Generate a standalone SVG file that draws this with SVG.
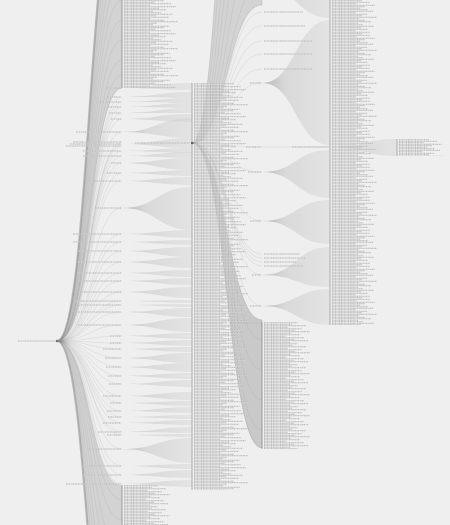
<svg xmlns="http://www.w3.org/2000/svg" xmlns:xlink="http://www.w3.org/1999/xlink" width="450" height="525" viewBox="0 0 450 525">
<style>
.bg{fill:#efefef}
.lk path{fill:none;stroke:#8f8f8f;stroke-opacity:.3;stroke-width:.5}
.lk .w{fill:url(#wg);stroke:none}
.lk .cr{fill:#a9a9a9;fill-opacity:.4;stroke:#999;stroke-opacity:.5;stroke-width:.6}
.lk .crd{fill:#9c9c9c;fill-opacity:.45;stroke:#888;stroke-opacity:.5;stroke-width:.6}
.lk .edge{stroke:#999;stroke-opacity:.6;stroke-width:2.2}
.halo{fill:none;stroke:#fff;stroke-opacity:.5;stroke-width:1.3}
.tx{fill:none;stroke:#878787;stroke-width:.65;stroke-dasharray:1.1 .35 .7 .4 1.4 .5}
.nl{stroke:#9a9a9a;stroke-width:.8;fill:none}
</style>
<defs>
<linearGradient id="wg" x1="0" y1="0" x2="1" y2="0">
<stop offset="0" stop-color="#8a8a8a" stop-opacity=".6"/>
<stop offset=".35" stop-color="#b0b0b0" stop-opacity=".35"/>
<stop offset="1" stop-color="#c8c8c8" stop-opacity=".3"/>
</linearGradient>
<path id="tA" d="M2 .75h40M2 2.25h31M2 3.75h47M2 5.25h26M2 6.75h52M2 8.25h35M2 9.75h42M2 11.25h29M2 12.75h37M2 14.25h49M2 15.75h32M2 17.25h45M2 18.75h27M2 20.25h40M2 21.75h54M2 23.25h33M2 24.75h29M2 26.25h46"/>
<path id="tB" d="M2 .75h34M2 2.25h28M2 3.75h42M2 5.25h24M2 6.75h38M2 8.25h31M2 9.75h46M2 11.25h27M2 12.75h36M2 14.25h22M2 15.75h40M2 17.25h30M2 18.75h44M2 20.25h26"/>
<path id="tC" d="M2 .75h30M2 2.25h38M2 3.75h25M2 5.25h43M2 6.75h33M2 8.25h28M2 9.75h36M2 11.25h41M2 12.75h24M2 14.25h35M2 15.75h30M2 17.25h45M2 18.75h27M2 20.25h33M2 21.75h39M2 23.25h26M2 24.75h31M2 26.25h42M2 27.75h29M2 29.25h36M2 30.75h24M2 32.25h38"/>
<path id="l1" d="M107 88H121M107 97H121M100 102H121M108 107H121M109 113H121M111 119H121M76 132H121M73 142H121M70 144H121M66 146H121M83 151H121M83 156H121M111 163H121M107 173H121M94 181H121M95 208H121M73 234H121M73 242H121M77 251H121M77 262H121M77 273H121M77 281H121M77 292H121M74 301H121M78 305H121M78 312H121M78 325H121M110 336H121M110 343H121M103 349H121M105 358H121M106 367H121M108 376H121M109 384H121M103 396H121M110 403H121M107 411H121M108 417H121M103 423H121M98 432H121M107 435H121M89 449H121M82 466H121M82 475H121M66 484H121"/>
<path id="l3" d="M264 12H303M264 26H305M264 41H312M264 54H312M264 69H312M264 254H300M264 258H305M264 262H296M264 266H303M250 83H261M246 147H261M292 147H329M248 172H261M250 221H261M252 275H261M250 306H261"/>
<pattern id="pA" patternUnits="userSpaceOnUse" width="80" height="27"><use href="#tA" class="halo"/><use href="#tA" class="tx"/></pattern>
<pattern id="pB" patternUnits="userSpaceOnUse" width="60" height="21"><use href="#tB" class="halo"/><use href="#tB" class="tx"/></pattern>
<pattern id="pC" patternUnits="userSpaceOnUse" width="60" height="33"><use href="#tC" class="halo"/><use href="#tC" class="tx"/></pattern>
</defs>
<rect class="bg" width="450" height="525"/>
<g id="connectors" class="lk">
<path class="cr" d="M57 341C89.5 341 89.5 -120 122 -120L122 88C89.5 88 89.5 341 57 341Z"/>
<path class="cr" d="M57 341C89.5 341 89.5 760 122 760L122 486C89.5 486 89.5 341 57 341Z"/>
<path class="edge" d="M57 341C89.5 341 89.5 -120 122 -120"/>
<path class="edge" d="M57 341C89.5 341 89.5 760 122 760"/>
<path d="M57 341C89.5 341 89.5 -100 122 -100"/><path d="M57 341C89.5 341 89.5 -80 122 -80"/><path d="M57 341C89.5 341 89.5 -60 122 -60"/><path d="M57 341C89.5 341 89.5 -40 122 -40"/><path d="M57 341C89.5 341 89.5 -20 122 -20"/><path d="M57 341C89.5 341 89.5 0 122 0"/><path d="M57 341C89.5 341 89.5 20 122 20"/><path d="M57 341C89.5 341 89.5 40 122 40"/><path d="M57 341C89.5 341 89.5 60 122 60"/><path d="M57 341C89.5 341 89.5 75 122 75"/>
<path d="M57 341C89.5 341 89.5 500 122 500"/><path d="M57 341C89.5 341 89.5 520 122 520"/><path d="M57 341C89.5 341 89.5 550 122 550"/><path d="M57 341C89.5 341 89.5 580 122 580"/><path d="M57 341C89.5 341 89.5 620 122 620"/><path d="M57 341C89.5 341 89.5 660 122 660"/><path d="M57 341C89.5 341 89.5 700 122 700"/>
<path d="M57 341C89.5 341 89.5 88 122 88"/><path d="M57 341C89.5 341 89.5 97 122 97"/><path d="M57 341C89.5 341 89.5 102 122 102"/><path d="M57 341C89.5 341 89.5 107 122 107"/><path d="M57 341C89.5 341 89.5 113 122 113"/><path d="M57 341C89.5 341 89.5 119 122 119"/><path d="M57 341C89.5 341 89.5 132 122 132"/><path d="M57 341C89.5 341 89.5 142 122 142"/><path d="M57 341C89.5 341 89.5 144 122 144"/><path d="M57 341C89.5 341 89.5 146 122 146"/><path d="M57 341C89.5 341 89.5 151 122 151"/><path d="M57 341C89.5 341 89.5 156 122 156"/><path d="M57 341C89.5 341 89.5 163 122 163"/><path d="M57 341C89.5 341 89.5 173 122 173"/><path d="M57 341C89.5 341 89.5 181 122 181"/><path d="M57 341C89.5 341 89.5 208 122 208"/><path d="M57 341C89.5 341 89.5 234 122 234"/><path d="M57 341C89.5 341 89.5 242 122 242"/><path d="M57 341C89.5 341 89.5 251 122 251"/><path d="M57 341C89.5 341 89.5 262 122 262"/><path d="M57 341C89.5 341 89.5 273 122 273"/><path d="M57 341C89.5 341 89.5 281 122 281"/><path d="M57 341C89.5 341 89.5 292 122 292"/><path d="M57 341C89.5 341 89.5 301 122 301"/><path d="M57 341C89.5 341 89.5 305 122 305"/><path d="M57 341C89.5 341 89.5 312 122 312"/><path d="M57 341C89.5 341 89.5 325 122 325"/><path d="M57 341C89.5 341 89.5 336 122 336"/><path d="M57 341C89.5 341 89.5 343 122 343"/><path d="M57 341C89.5 341 89.5 349 122 349"/><path d="M57 341C89.5 341 89.5 358 122 358"/><path d="M57 341C89.5 341 89.5 367 122 367"/><path d="M57 341C89.5 341 89.5 376 122 376"/><path d="M57 341C89.5 341 89.5 384 122 384"/><path d="M57 341C89.5 341 89.5 396 122 396"/><path d="M57 341C89.5 341 89.5 403 122 403"/><path d="M57 341C89.5 341 89.5 411 122 411"/><path d="M57 341C89.5 341 89.5 417 122 417"/><path d="M57 341C89.5 341 89.5 423 122 423"/><path d="M57 341C89.5 341 89.5 432 122 432"/><path d="M57 341C89.5 341 89.5 435 122 435"/><path d="M57 341C89.5 341 89.5 449 122 449"/><path d="M57 341C89.5 341 89.5 466 122 466"/><path d="M57 341C89.5 341 89.5 475 122 475"/><path d="M57 341C89.5 341 89.5 484 122 484"/>
<path class="w" d="M122 88C157 88 157 83 192 83L192 90C157 90 157 88 122 88Z"/>
<path class="w" d="M122 97C157 97 157 92 192 92L192 98C157 98 157 97 122 97Z"/>
<path class="w" d="M122 102C157 102 157 98 192 98L192 103C157 103 157 102 122 102Z"/>
<path class="w" d="M122 107C157 107 157 103 192 103L192 108C157 108 157 107 122 107Z"/>
<path class="w" d="M122 113C157 113 157 108 192 108L192 113C157 113 157 113 122 113Z"/>
<path class="w" d="M122 119C157 119 157 114 192 114L192 122C157 122 157 119 122 119Z"/>
<path class="w" d="M122 132C157 132 157 118 192 118L192 138C157 138 157 132 122 132Z"/>
<path class="w" d="M122 144C157 144 157 138 192 138L192 148C157 148 157 144 122 144Z"/>
<path class="w" d="M122 151C157 151 157 148 192 148L192 153C157 153 157 151 122 151Z"/>
<path class="w" d="M122 156C157 156 157 152 192 152L192 158C157 158 157 156 122 156Z"/>
<path class="w" d="M122 163C157 163 157 158 192 158L192 170C157 170 157 163 122 163Z"/>
<path class="w" d="M122 173C157 173 157 170 192 170L192 176C157 176 157 173 122 173Z"/>
<path class="w" d="M122 181C157 181 157 177 192 177L192 185C157 185 157 181 122 181Z"/>
<path class="w" d="M122 208C157 208 157 187 192 187L192 230C157 230 157 208 122 208Z"/>
<path class="w" d="M122 234C157 234 157 230 192 230L192 238C157 238 157 234 122 234Z"/>
<path class="w" d="M122 242C157 242 157 240 192 240L192 245C157 245 157 242 122 242Z"/>
<path class="w" d="M122 251C157 251 157 247 192 247L192 257C157 257 157 251 122 251Z"/>
<path class="w" d="M122 262C157 262 157 257 192 257L192 268C157 268 157 262 122 262Z"/>
<path class="w" d="M122 273C157 273 157 270 192 270L192 277C157 277 157 273 122 273Z"/>
<path class="w" d="M122 281C157 281 157 278 192 278L192 285C157 285 157 281 122 281Z"/>
<path class="w" d="M122 292C157 292 157 287 192 287L192 298C157 298 157 292 122 292Z"/>
<path class="w" d="M122 301C157 301 157 300 192 300L192 303C157 303 157 301 122 301Z"/>
<path class="w" d="M122 305C157 305 157 304 192 304L192 307C157 307 157 305 122 305Z"/>
<path class="w" d="M122 312C157 312 157 308 192 308L192 317C157 317 157 312 122 312Z"/>
<path class="w" d="M122 325C157 325 157 318 192 318L192 332C157 332 157 325 122 325Z"/>
<path class="w" d="M122 336C157 336 157 333 192 333L192 339C157 339 157 336 122 336Z"/>
<path class="w" d="M122 343C157 343 157 340 192 340L192 346C157 346 157 343 122 343Z"/>
<path class="w" d="M122 349C157 349 157 347 192 347L192 352C157 352 157 349 122 349Z"/>
<path class="w" d="M122 358C157 358 157 353 192 353L192 363C157 363 157 358 122 358Z"/>
<path class="w" d="M122 367C157 367 157 363 192 363L192 372C157 372 157 367 122 367Z"/>
<path class="w" d="M122 376C157 376 157 373 192 373L192 379C157 379 157 376 122 376Z"/>
<path class="w" d="M122 384C157 384 157 380 192 380L192 387C157 387 157 384 122 384Z"/>
<path class="w" d="M122 396C157 396 157 392 192 392L192 400C157 400 157 396 122 396Z"/>
<path class="w" d="M122 403C157 403 157 401 192 401L192 406C157 406 157 403 122 403Z"/>
<path class="w" d="M122 411C157 411 157 407 192 407L192 413C157 413 157 411 122 411Z"/>
<path class="w" d="M122 417C157 417 157 415 192 415L192 419C157 419 157 417 122 417Z"/>
<path class="w" d="M122 423C157 423 157 420 192 420L192 425C157 425 157 423 122 423Z"/>
<path class="w" d="M122 432C157 432 157 427 192 427L192 433C157 433 157 432 122 432Z"/>
<path class="w" d="M122 435C157 435 157 434 192 434L192 437C157 437 157 435 122 435Z"/>
<path class="w" d="M122 449C157 449 157 438 192 438L192 463C157 463 157 449 122 449Z"/>
<path class="w" d="M122 466C157 466 157 464 192 464L192 469C157 469 157 466 122 466Z"/>
<path class="w" d="M122 475C157 475 157 470 192 470L192 478C157 478 157 475 122 475Z"/>
<path class="w" d="M122 484C157 484 157 480 192 480L192 487C157 487 157 484 122 484Z"/>
<path class="cr" d="M192 143C227 143 227 -600 262 -600L262 5C227 5 227 143 192 143Z"/>
<path class="crd" d="M192 143C227 143 227 448 262 448L262 320C227 320 227 143 192 143Z"/>
<path d="M192 143C227 143 227 -450 262 -450"/><path d="M192 143C227 143 227 -300 262 -300"/><path d="M192 143C227 143 227 -200 262 -200"/><path d="M192 143C227 143 227 -120 262 -120"/><path d="M192 143C227 143 227 -60 262 -60"/><path d="M192 143C227 143 227 -15 262 -15"/><path d="M192 143C227 143 227 12 262 12"/><path d="M192 143C227 143 227 26 262 26"/><path d="M192 143C227 143 227 41 262 41"/><path d="M192 143C227 143 227 54 262 54"/><path d="M192 143C227 143 227 69 262 69"/><path d="M192 143C227 143 227 83 262 83"/><path d="M192 143C227 143 227 147 262 147"/><path d="M192 143C227 143 227 172 262 172"/><path d="M192 143C227 143 227 221 262 221"/><path d="M192 143C227 143 227 254 262 254"/><path d="M192 143C227 143 227 258 262 258"/><path d="M192 143C227 143 227 262 262 262"/><path d="M192 143C227 143 227 266 262 266"/><path d="M192 143C227 143 227 275 262 275"/><path d="M192 143C227 143 227 306 262 306"/><path d="M192 143C227 143 227 340 262 340"/><path d="M192 143C227 143 227 370 262 370"/><path d="M192 143C227 143 227 400 262 400"/><path d="M192 143C227 143 227 430 262 430"/>
<path d="M192 323H262"/>
<path class="w" d="M262 -15C296 -15 296 -40 330 -40L330 18C296 18 296 -15 262 -15Z"/>
<path class="w" d="M262 83C296 83 296 20 330 20L330 145C296 145 296 83 262 83Z"/>
<path d="M262 147H330"/>
<path class="w" d="M262 172C296 172 296 150 330 150L330 198C296 198 296 172 262 172Z"/>
<path class="w" d="M262 221C296 221 296 200 330 200L330 244C296 244 296 221 262 221Z"/>
<path class="w" d="M262 275C296 275 296 247 330 247L330 287C296 287 296 275 262 275Z"/>
<path class="w" d="M262 306C296 306 296 289 330 289L330 325C296 325 296 306 262 306Z"/>
<path class="w" d="M330 147C363.5 147 363.5 139 397 139L397 156C363.5 156 363.5 147 330 147Z"/>
</g>
<g id="root">
<path class="halo" d="M18 341H55"/><path class="tx" d="M18 341H55"/>
<circle cx="57" cy="341" r="1.3" fill="#777"/>
</g>
<g id="level1-leaves-top" transform="translate(122,0)">
<rect width="70" height="88" fill="url(#pA)"/><path class="nl" d="M0 0V88"/>
</g>
<g id="level1-leaves-bottom" transform="translate(122,485)">
<rect width="60" height="40" fill="url(#pB)"/><path class="nl" d="M0 0V40"/>
</g>
<g id="level1-internal">
<use href="#l1" class="halo"/><use href="#l1" class="tx"/>
</g>
<g id="level2-leaves" transform="translate(192,83)">
<rect width="80" height="407" fill="url(#pA)"/><path class="nl" d="M0 0V407"/>
</g>
<g id="n2-143">
<path class="halo" d="M135 143H190"/><path class="tx" d="M135 143H190" stroke="#888"/>
<circle cx="192" cy="143" r="1.2" fill="#666"/>
</g>
<g id="level3-nodes">
<use href="#l3" class="halo"/><use href="#l3" class="tx"/>
</g>
<g id="level3-leaves" transform="translate(262,322)">
<rect width="60" height="127" fill="url(#pB)"/><path class="nl" d="M0 0V127"/>
</g>
<g id="level4-leaves" transform="translate(330,0)">
<rect width="60" height="325" fill="url(#pC)"/><path class="nl" d="M0 0V325"/>
</g>
<g id="level5-leaves" transform="translate(397,139)">
<rect width="55" height="17" fill="url(#pC)"/><path class="nl" d="M0 0V17"/>
</g>
</svg>
